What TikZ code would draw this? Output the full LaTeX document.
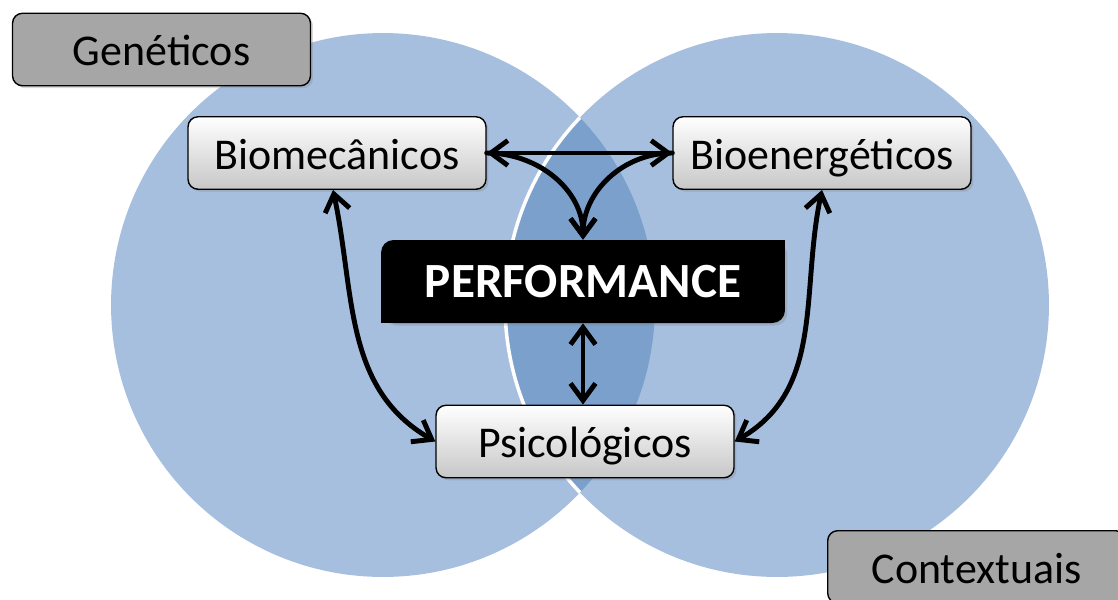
\documentclass[tikz,border=0pt]{standalone}
\usepackage{fontspec}
\setmainfont{Carlito}
\usetikzlibrary{arrows.meta,shadows}
\definecolor{circblue}{RGB}{167,191,222}
\definecolor{overblue}{RGB}{123,160,204}
\definecolor{boxgray}{RGB}{166,166,166}

\begin{document}
\begin{tikzpicture}[
x=0.02cm, y=0.02cm,
factor/.style={draw=black, line width=0.8pt, rounded corners=0.2cm,
  minimum width=5.96cm, minimum height=1.45cm, text height=18.5pt, text depth=0pt,
  font=\fontsize{25}{30}\selectfont,
  drop shadow={opacity=0.3, shadow xshift=0.05cm, shadow yshift=-0.05cm}},
outer/.style={factor, fill=boxgray},
inner/.style={factor, top color=white, bottom color=black!22},
perf/.style={fill=black, text=white, rounded corners=0.25cm,
  minimum width=8.08cm, minimum height=1.66cm,
  font=\fontsize{28}{34}\selectfont\bfseries,
  drop shadow={opacity=0.3, shadow xshift=0.05cm, shadow yshift=-0.05cm}},
link/.style={line width=2.8pt, line cap=round},
>={Straight Barb[length=0.34cm, width=0.5cm]},
]
\useasboundingbox (0,0) rectangle (1118,-599);
\clip (0,0) rectangle (1118,-599);

% circulos
\fill[circblue] (383,-305) circle[radius=5.44cm];
\fill[circblue] (777,-305) circle[radius=5.44cm];
\begin{scope}
\clip (383,-305) circle[radius=5.44cm];
\fill[overblue] (777,-305) circle[radius=5.44cm];
\draw[white, line width=2pt] (777,-305) circle[radius=5.44cm];
\end{scope}

\node[outer] (gen) at (161.5,-49.5) {Genéticos};
\node[outer, anchor=north west] (ctx) at (827,-530) {Contextuais};
\node[inner] (bmec) at (337,-153) {Biomecânicos};
\node[inner] (bene) at (822,-153) {Bioenergéticos};
\node[inner] (psi) at (585,-441.5) {Psicológicos};
\node[perf] (core) at (583,-281.5) {PERFORMANCE};
\fill (core.north east) rectangle ++(-20,-20); % cantos retos
\fill (core.south west) rectangle ++(20,20);

\draw[link, <->] (bmec) -- (bene);
\draw[link, ->] (bmec.east) to[out=0, in=90] (core.north);
\draw[link, ->] (bene.west) to[out=180, in=90] (core.north);
\draw[link, <->] (core.south) -- (core.south |- psi.north);
\draw[link, <->] ([xshift=-0.08cm]bmec.south) to[out=-78, in=150] (psi.west);
\draw[link, <->] (bene.south) to[out=-102, in=30] (psi.east);
\end{tikzpicture}
\end{document}
